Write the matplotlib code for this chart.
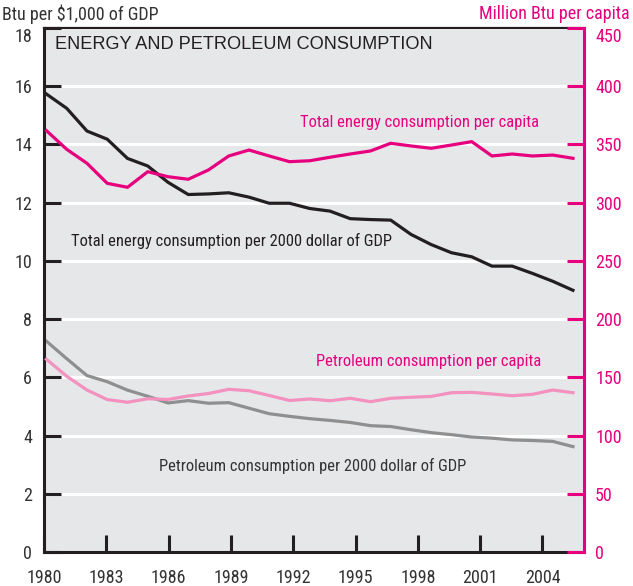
import matplotlib.pyplot as plt
from matplotlib import font_manager

# pick a narrow face if there is one (the original uses a condensed grotesque)
entries = font_manager.fontManager.ttflist
names = {f.name for f in entries}
FONT = None
STRETCH = 'normal'
for fam in ['Liberation Sans Narrow', 'Roboto Condensed', 'Noto Sans Condensed',
            'Open Sans Condensed', 'DejaVu Sans Condensed']:
    if fam in names:
        FONT = fam
        break
if FONT is None:
    for fam in ['Noto Sans', 'DejaVu Sans', 'Open Sans', 'Roboto']:
        if any(f.name == fam and str(f.stretch) in ('condensed', 'semi-condensed', '75', '87')
               for f in entries):
            FONT, STRETCH = fam, 'condensed'
            break
if FONT is None:
    FONT = 'Roboto'
    SCALE = 0.86
else:
    SCALE = 1.0

plt.rcParams['font.family'] = [FONT, 'DejaVu Sans']
plt.rcParams['font.stretch'] = STRETCH

years = list(range(1980, 2007))

# Btu per 2000 dollar of GDP (thousand Btu), left axis
energy_gdp = [15.73, 15.24, 14.46, 14.18, 13.52, 13.26, 12.70, 12.28, 12.30, 12.34,
              12.19, 11.98, 11.98, 11.80, 11.71, 11.45, 11.42, 11.40, 10.91, 10.56,
              10.28, 10.14, 9.82, 9.82, 9.57, 9.30, 8.99]
petro_gdp = [7.24, 6.64, 6.06, 5.85, 5.56, 5.35, 5.12, 5.20, 5.11, 5.13,
             4.94, 4.75, 4.66, 4.58, 4.52, 4.45, 4.34, 4.31, 4.20, 4.10,
             4.03, 3.95, 3.91, 3.85, 3.83, 3.80, 3.62]

# Million Btu per capita, right axis
energy_cap = [361.8, 345.8, 333.8, 316.6, 313.2, 326.6, 322.3, 320.1, 328.1, 340.1,
              345.2, 340.1, 335.2, 336.0, 339.0, 341.8, 344.4, 351.0, 348.7, 346.7,
              349.5, 352.4, 340.1, 341.8, 340.1, 340.9, 338.1]
petro_cap = [165.5, 150.9, 139.1, 130.9, 128.6, 131.6, 131.0, 134.0, 136.1, 139.7,
             138.5, 134.4, 130.1, 131.4, 129.9, 132.0, 129.1, 132.0, 132.9, 133.6,
             136.8, 137.1, 135.7, 134.2, 135.4, 139.1, 136.8]

tick_years = list(range(1980, 2005, 3))
left_ticks = list(range(0, 19, 2))
right_ticks = list(range(0, 451, 50))

DARK = '#231f20'
TXT = '#333333'
MAGENTA = '#e6007e'
PINK = '#f391bf'
GRAY = '#8f8f8f'

# the data grid is slightly narrower than the year ticks in the original
X0 = 1979.877
R = 20.25 / 20.77


def tick_pos(yr):
    return X0 + (yr - 1980) / R


fs = 11.9 * SCALE     # labels inside the plot
hs = 13 * SCALE       # axis headers
ts = 13 * SCALE       # tick labels

fig = plt.figure(figsize=(6.33, 5.86), dpi=100)
ax = fig.add_axes([44 / 633, 1 - 552 / 586, 540 / 633, 524 / 586])
axr = ax.twinx()

ax.set_facecolor('#e6e7e9')
ax.set_xlim(X0, tick_pos(2006))
ax.set_ylim(0, 18)
axr.set_ylim(0, 450)

ax.set_yticks(left_ticks)
ax.yaxis.grid(True, color='white', linewidth=2.2)
ax.set_axisbelow(True)

ax.plot(years, energy_gdp, color=DARK, linewidth=2.3)
ax.plot(years, petro_gdp, color=GRAY, linewidth=2.3)
axr.plot(years, energy_cap, color=MAGENTA, linewidth=2.3)
axr.plot(years, petro_cap, color=PINK, linewidth=2.3)

ax.set_xticks([tick_pos(y) for y in tick_years], [str(y) for y in tick_years])
axr.set_yticks(right_ticks)

ax.tick_params(axis='y', direction='in', length=12.5, width=2.2, color=DARK,
               labelcolor=TXT, labelsize=ts, pad=8.5)
ax.tick_params(axis='x', direction='in', length=12, width=2.2, color=DARK,
               labelcolor=TXT, labelsize=ts, pad=12)
axr.tick_params(axis='y', direction='in', length=12.5, width=2.2, color=MAGENTA,
                labelcolor=MAGENTA, labelsize=ts, pad=8)

# top labels sit just below the frame, as in the original
ax.get_yticklabels()[-1].set_va('top')
axr.get_yticklabels()[-1].set_va('top')

for s in ['left', 'bottom']:
    ax.spines[s].set_color(DARK)
    ax.spines[s].set_linewidth(2.2)
ax.spines['top'].set_color(DARK)
ax.spines['top'].set_linewidth(1.6)
ax.spines['right'].set_visible(False)
for s in ['left', 'bottom', 'top']:
    axr.spines[s].set_visible(False)
axr.spines['right'].set_color(MAGENTA)
axr.spines['right'].set_linewidth(2.2)

ax.text(0.0204, 0.969, 'ENERGY AND PETROLEUM CONSUMPTION', transform=ax.transAxes,
        family=['Liberation Sans', 'DejaVu Sans'], stretch='normal', fontsize=13.1,
        color=DARK, va='center', ha='left')
ax.text(0.474, 0.819, 'Total energy consumption per capita', transform=ax.transAxes,
        fontsize=fs, color=MAGENTA, va='center', ha='left')
ax.text(0.05, 0.5935, 'Total energy consumption per 2000 dollar of GDP',
        transform=ax.transAxes, fontsize=fs, color=DARK, va='center', ha='left')
ax.text(0.5037, 0.3645, 'Petroleum consumption per capita', transform=ax.transAxes,
        fontsize=fs, color=MAGENTA, va='center', ha='left')
ax.text(0.213, 0.164, 'Petroleum consumption per 2000 dollar of GDP',
        transform=ax.transAxes, fontsize=fs, color=TXT, va='center', ha='left')

fig.text(0.003, 0.976, 'Btu per $1,000 of GDP', fontsize=hs, color=TXT,
         va='center', ha='left')
fig.text(0.995, 0.976, 'Million Btu per capita', fontsize=hs, color=MAGENTA,
         va='center', ha='right')

fig.savefig('out.png', dpi=100)
